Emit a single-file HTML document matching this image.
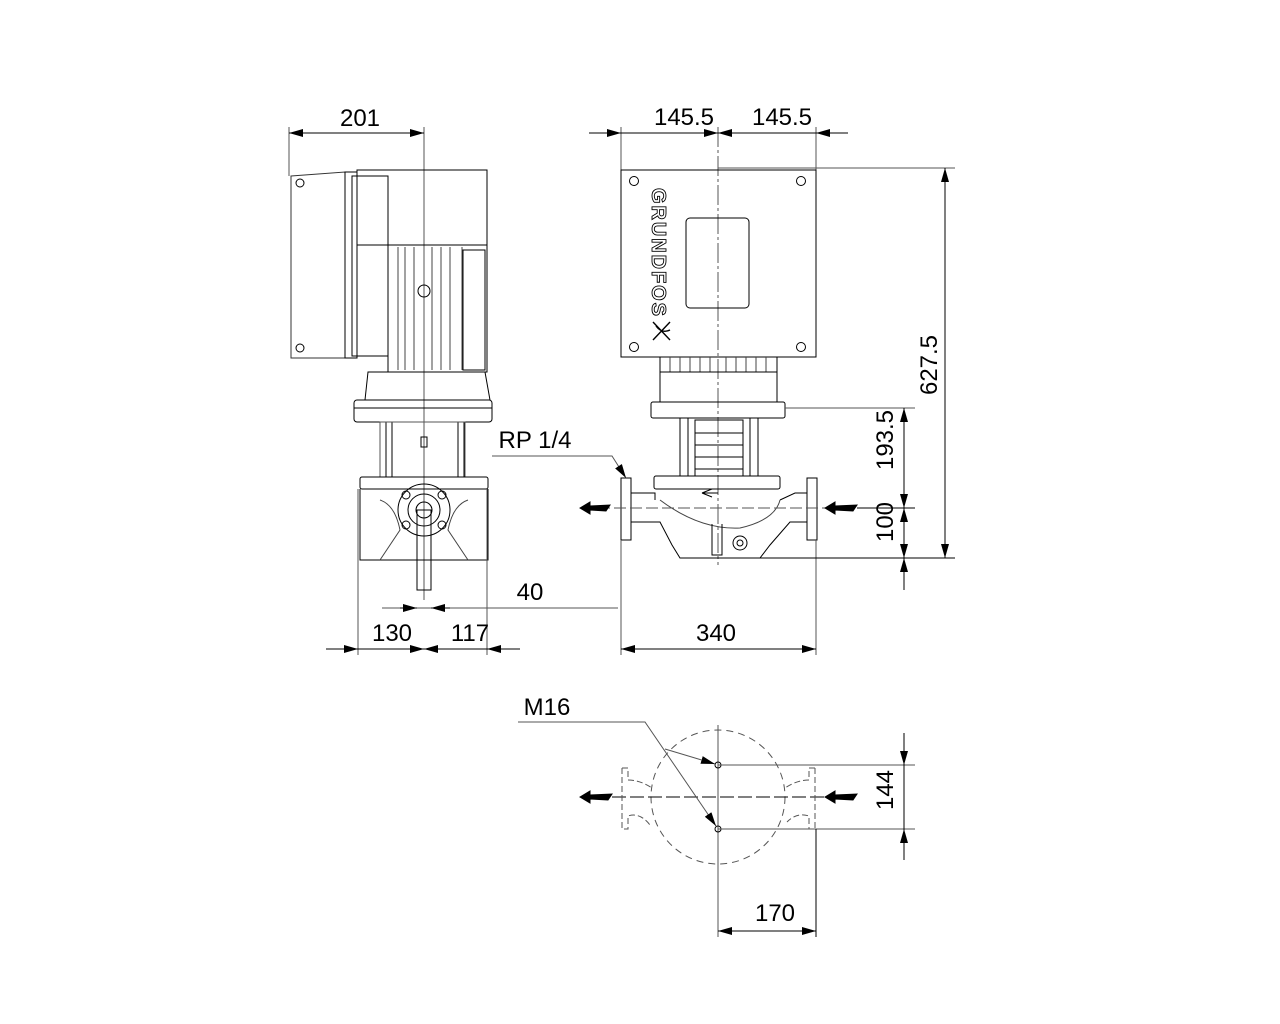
<!DOCTYPE html>
<html><head><meta charset="utf-8"><style>
html,body{margin:0;padding:0;background:#fff;}
svg{display:block;}
text{font-family:"Liberation Sans",sans-serif;font-size:24px;}
</style></head><body>
<svg width="1280" height="1024" viewBox="0 0 1280 1024" xmlns="http://www.w3.org/2000/svg">
<defs>
<marker id="a" viewBox="0 0 14 8" refX="14" refY="4" markerWidth="14" markerHeight="8" markerUnits="userSpaceOnUse" orient="auto-start-reverse"><path d="M0,0 L14,4 L0,8 z" fill="#000"/></marker>
</defs>
<g fill="none" stroke="#000" stroke-width="1">
<line x1="289" y1="127" x2="289" y2="176" stroke="#555"/>
<line x1="424" y1="127" x2="424" y2="600" stroke="#555"/>
<line x1="289" y1="133" x2="424" y2="133" marker-start="url(#a)" marker-end="url(#a)"/>
<path d="M291,176 L345,172 L345,358 L291,358 Z" stroke="#333"/>
<circle cx="300" cy="183" r="4"/><circle cx="300" cy="348" r="4"/>
<rect x="345" y="172" width="12" height="186"/>
<rect x="352" y="176" width="36" height="180"/>
<rect x="357" y="170" width="130" height="75"/>
<rect x="388" y="245" width="99" height="127"/>
<g stroke="#444"><line x1="398" y1="247" x2="398" y2="370"/><line x1="405" y1="247" x2="405" y2="370"/><line x1="414" y1="247" x2="414" y2="370"/><line x1="432" y1="247" x2="432" y2="370"/><line x1="441" y1="247" x2="441" y2="370"/><line x1="450" y1="247" x2="450" y2="370"/><line x1="462" y1="247" x2="462" y2="370"/></g>
<circle cx="424" cy="291" r="6"/>
<rect x="463" y="250" width="22" height="120"/>
<path d="M368,372 L485,372 L490,400 L365,400 Z"/>
<rect x="354" y="400" width="138" height="22" rx="3"/>
<line x1="354" y1="408" x2="492" y2="408"/>
<rect x="386" y="422" width="6" height="55"/><rect x="458" y="422" width="6" height="55"/>
<rect x="380" y="422" width="85" height="55" stroke="#555"/>
<rect x="421" y="437" width="6" height="10"/>
<rect x="360" y="477" width="128" height="12" rx="2"/>
<path d="M360,489 L360,560 L488,560 L488,489"/>
<path d="M380,500 Q395,505 400,530 L380,560 M468,500 Q453,505 448,530 L468,560" stroke="#444"/>
<circle cx="424" cy="510" r="26"/><circle cx="424" cy="510" r="16"/><circle cx="424" cy="510" r="8"/>
<circle cx="406" cy="495" r="4"/><circle cx="442" cy="495" r="4"/><circle cx="406" cy="525" r="4"/><circle cx="442" cy="525" r="4"/>
<rect x="417" y="510" width="14" height="80"/>
<line x1="358" y1="489" x2="358" y2="655" stroke="#555"/>
<line x1="487" y1="489" x2="487" y2="655" stroke="#555"/>
<line x1="326" y1="649" x2="520" y2="649"/>
<line x1="340" y1="649" x2="358" y2="649" marker-end="url(#a)"/>
<line x1="400" y1="649" x2="424" y2="649" marker-end="url(#a)"/>
<line x1="450" y1="649" x2="424" y2="649" marker-end="url(#a)"/>
<line x1="510" y1="649" x2="487" y2="649" marker-end="url(#a)"/>
<line x1="382" y1="608" x2="618" y2="608" stroke="#555"/>
<line x1="400" y1="608" x2="417" y2="608" marker-end="url(#a)"/>
<line x1="450" y1="608" x2="431" y2="608" marker-end="url(#a)"/>
<line x1="718" y1="127" x2="718" y2="565" stroke="#555" stroke-dasharray="20,3,3,3"/>
<line x1="621" y1="127" x2="621" y2="170" stroke="#555"/>
<line x1="816" y1="127" x2="816" y2="170" stroke="#555"/>
<line x1="589" y1="133" x2="848" y2="133"/>
<line x1="600" y1="133" x2="621" y2="133" marker-end="url(#a)"/>
<line x1="700" y1="133" x2="718" y2="133" marker-end="url(#a)"/>
<line x1="740" y1="133" x2="718" y2="133" marker-end="url(#a)"/>
<line x1="840" y1="133" x2="816" y2="133" marker-end="url(#a)"/>
<rect x="621" y="170" width="195" height="187"/>
<rect x="686" y="218" width="63" height="90" rx="4"/>
<circle cx="634" cy="181" r="4.5"/><circle cx="801" cy="181" r="4.5"/><circle cx="634" cy="347" r="4.5"/><circle cx="801" cy="347" r="4.5"/>
<rect x="660" y="357" width="117" height="15"/>
<g stroke="#444"><line x1="670" y1="357" x2="670" y2="372"/><line x1="680" y1="357" x2="680" y2="372"/><line x1="690" y1="357" x2="690" y2="372"/><line x1="700" y1="357" x2="700" y2="372"/><line x1="710" y1="357" x2="710" y2="372"/><line x1="726" y1="357" x2="726" y2="372"/><line x1="736" y1="357" x2="736" y2="372"/><line x1="746" y1="357" x2="746" y2="372"/><line x1="756" y1="357" x2="756" y2="372"/><line x1="766" y1="357" x2="766" y2="372"/></g>
<rect x="660" y="372" width="117" height="30"/>
<rect x="651" y="402" width="134" height="16" rx="2"/>
<rect x="680" y="418" width="8" height="58"/><rect x="750" y="418" width="8" height="58"/>
<rect x="695" y="420" width="48" height="56"/>
<line x1="695" y1="433" x2="743" y2="433"/><line x1="695" y1="445" x2="743" y2="445"/><line x1="695" y1="457" x2="743" y2="457"/><line x1="695" y1="469" x2="743" y2="469"/>
<rect x="654" y="476" width="126" height="13" rx="2"/>
<rect x="621" y="478" width="10" height="62"/><rect x="807" y="478" width="10" height="62"/>
<path d="M631,493 L655,493 L655,500 M631,522 L660,522 L672,545 L680,558 L760,558 L770,545 L790,522 L807,522 M807,493 L795,493 L780,500"/>
<path d="M660,500 Q700,530 740,528 Q775,520 780,500" stroke="#444"/>
<path d="M712,524 L712,555 L722,555 L722,524" />
<circle cx="740" cy="543" r="7"/><circle cx="740" cy="543" r="3"/>
<line x1="718" y1="493" x2="702" y2="493"/><path d="M702,493 L712,489 M702,493 L712,497"/>
<line x1="598" y1="508" x2="840" y2="508" stroke="#555" stroke-dasharray="12,4"/>
<path d="M580,508 L590,502 L590,506 L610,505 L606,511 L590,510 L590,514 Z" fill="#000"/>
<path d="M825,508 L835,502 L835,506 L857,505 L853,511 L835,510 L835,514 Z" fill="#000"/>
<line x1="857" y1="508" x2="915" y2="508"/>
<line x1="621" y1="540" x2="621" y2="655" stroke="#555"/>
<line x1="816" y1="540" x2="816" y2="655" stroke="#555"/>
<line x1="621" y1="649" x2="816" y2="649" marker-start="url(#a)" marker-end="url(#a)"/>
<line x1="718" y1="168" x2="955" y2="168" stroke="#555"/>
<line x1="760" y1="558" x2="955" y2="558"/>
<line x1="945" y1="168" x2="945" y2="558" marker-start="url(#a)" marker-end="url(#a)"/>
<line x1="785" y1="408" x2="915" y2="408" stroke="#555"/>
<line x1="904" y1="408" x2="904" y2="590"/>
<line x1="904" y1="425" x2="904" y2="408" marker-end="url(#a)"/>
<line x1="904" y1="490" x2="904" y2="508" marker-end="url(#a)"/>
<line x1="904" y1="525" x2="904" y2="508" marker-end="url(#a)"/>
<line x1="904" y1="540" x2="904" y2="558" marker-end="url(#a)"/>
<line x1="904" y1="575" x2="904" y2="558" marker-end="url(#a)"/>
<polyline points="492,456 612,456 626,478" stroke="#555" marker-end="url(#a)"/>
<circle cx="718" cy="797" r="67" stroke="#555" stroke-dasharray="7,5"/>
<line x1="718" y1="725" x2="718" y2="937" stroke="#555"/>
<circle cx="718" cy="765" r="3"/><circle cx="718" cy="829" r="3"/>
<line x1="718" y1="765" x2="915" y2="765" stroke="#555"/>
<line x1="718" y1="829" x2="915" y2="829" stroke="#555"/>
<line x1="904" y1="733" x2="904" y2="860"/>
<line x1="904" y1="745" x2="904" y2="765" marker-end="url(#a)"/>
<line x1="904" y1="849" x2="904" y2="829" marker-end="url(#a)"/>
<line x1="612" y1="797" x2="830" y2="797" stroke-dasharray="14,4"/>
<path d="M622,768 L628,768 L628,780 Q640,780 652,788 M622,768 L622,829 L628,829 L628,816 Q640,812 650,825" stroke="#555" stroke-dasharray="6,3"/>
<path d="M815,768 L809,768 L809,780 Q797,780 785,788 M815,768 L815,829 L809,829 L809,816 Q797,812 787,822" stroke="#555" stroke-dasharray="6,3"/>
<path d="M580,797 L590,791 L590,795 L612,794 L608,800 L590,799 L590,803 Z" fill="#000"/>
<path d="M825,797 L835,791 L835,795 L857,794 L853,800 L835,799 L835,803 Z" fill="#000"/>
<line x1="816" y1="829" x2="816" y2="937"/>
<line x1="718" y1="931" x2="816" y2="931" marker-start="url(#a)" marker-end="url(#a)"/>
<polyline points="518,722 645,722 716,826" stroke="#555" marker-end="url(#a)"/>
<line x1="665" y1="749" x2="715" y2="764" stroke="#555" marker-end="url(#a)"/>
</g>
<g font-size="20" fill="#000">
<text x="360" y="126" text-anchor="middle">201</text>
<text x="684" y="125" text-anchor="middle">145.5</text>
<text x="782" y="125" text-anchor="middle">145.5</text>
<text x="535" y="448" text-anchor="middle">RP 1/4</text>
<text x="530" y="600" text-anchor="middle">40</text>
<text x="392" y="641" text-anchor="middle">130</text>
<text x="470" y="641" text-anchor="middle">117</text>
<text x="716" y="641" text-anchor="middle">340</text>
<text x="547" y="715" text-anchor="middle">M16</text>
<text x="775" y="921" text-anchor="middle">170</text>
<text transform="translate(937,365) rotate(-90)" text-anchor="middle">627.5</text>
<text transform="translate(893,440) rotate(-90)" text-anchor="middle">193.5</text>
<text transform="translate(893,522) rotate(-90)" text-anchor="middle">100</text>
<text transform="translate(893,790) rotate(-90)" text-anchor="middle">144</text>
</g>
<text transform="translate(652,188) rotate(90)" textLength="128" lengthAdjust="spacing" style="fill:none;stroke:#000;stroke-width:0.9;font-size:20px;font-weight:bold">GRUNDFOS</text>
<path d="M653,322 L670,340 M670,322 L653,340 M656,326 Q662,334 670,330" fill="none" stroke="#000" stroke-width="1.4"/>
</svg>
</body></html>
